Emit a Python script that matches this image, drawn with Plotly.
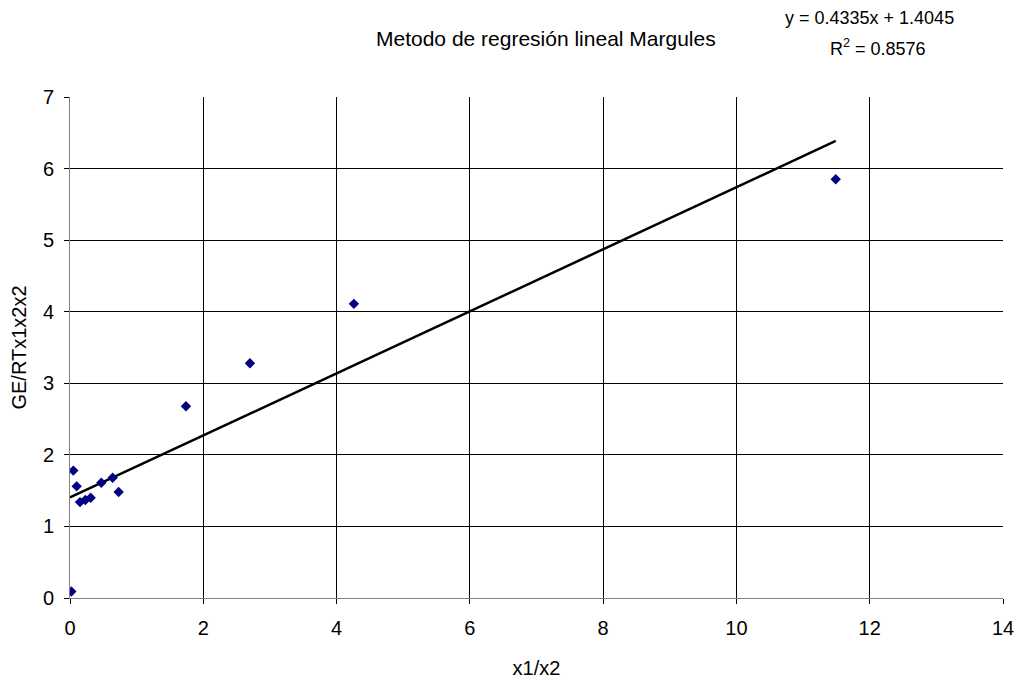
import plotly.graph_objects as go

# Observed data: x1/x2 versus GE/(RT x1 x2)
x_ratio = [0.02, 0.05, 0.10, 0.15, 0.23, 0.31, 0.47, 0.64, 0.73, 1.74, 2.70, 4.26, 11.49]
ge_rt = [0.09, 1.78, 1.56, 1.34, 1.37, 1.40, 1.61, 1.68, 1.48, 2.68, 3.28, 4.11, 5.85]

# Linear fit reported on the chart
slope = 0.4335
intercept = 1.4045
r_squared = 0.8576

x_ticks = [0, 2, 4, 6, 8, 10, 12, 14]
y_ticks = [0, 1, 2, 3, 4, 5, 6, 7]

fit_x = [0, max(x_ratio)]
fit_y = [slope * v + intercept for v in fit_x]

font_family = "Liberation Sans, Arial, sans-serif"
txt = dict(size=20, color="black", family=font_family)
title_txt = dict(size=21, color="black", family=font_family)
eq_txt = dict(size=18, color="black", family=font_family)

fig = go.Figure()
fig.add_trace(go.Scatter(
    x=fit_x, y=fit_y, mode="lines",
    line=dict(color="black", width=2.5),
    hoverinfo="skip", showlegend=False,
))
fig.add_trace(go.Scatter(
    x=x_ratio, y=ge_rt, mode="markers",
    marker=dict(symbol="diamond", color="#000080", size=8),
    showlegend=False,
))

axis_common = dict(
    showgrid=True, gridcolor="#000000", gridwidth=1,
    showline=True, linecolor="#808080", linewidth=1,
    ticks="outside", ticklen=5, tickcolor="#000000",
    zeroline=False, mirror=False, automargin=False,
    tickfont=txt,
)

fig.update_xaxes(
    range=[0, 14], tickvals=x_ticks, ticklabelstandoff=7,
    title=dict(text="x1/x2", font=txt, standoff=22),
    **axis_common,
)
fig.update_yaxes(
    range=[0, 7], tickvals=y_ticks, ticklabelstandoff=6,
    title=dict(text="GE/RTx1x2x2", font=txt, standoff=10),
    **axis_common,
)

fig.add_annotation(
    text="Metodo de regresión lineal Margules",
    xref="paper", yref="paper", x=0.51, y=1.116,
    xanchor="center", yanchor="middle", showarrow=False,
    font=title_txt,
)
fig.add_annotation(
    text=f"y = {slope}x + {intercept}",
    xref="paper", yref="paper", x=0.857, y=1.158,
    xanchor="center", yanchor="middle", showarrow=False,
    font=eq_txt,
)
fig.add_annotation(
    text=f"R<sup>2</sup> = {r_squared}",
    xref="paper", yref="paper", x=0.866, y=1.098,
    xanchor="center", yanchor="middle", showarrow=False,
    font=eq_txt,
)

fig.update_layout(
    width=1019, height=681,
    margin=dict(l=70, r=16, t=97, b=83),
    plot_bgcolor="white", paper_bgcolor="white",
    font=dict(family=font_family, color="black", size=20),
)

fig.write_html("out.html")
